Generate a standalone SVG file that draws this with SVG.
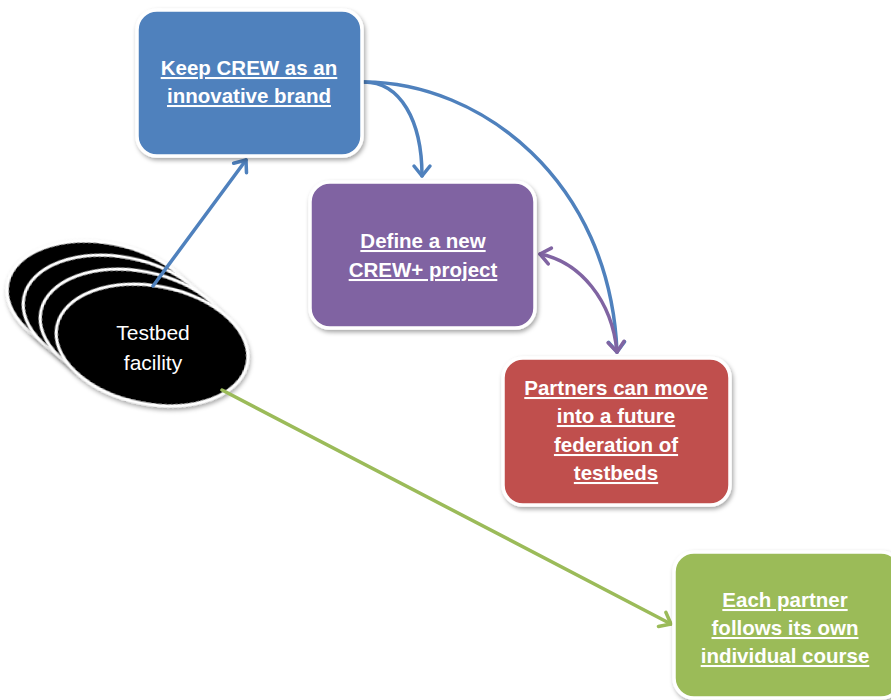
<svg xmlns="http://www.w3.org/2000/svg" width="891" height="700" viewBox="0 0 891 700">
<defs>
<style>
.box{stroke:#fff;stroke-width:3.5;filter:url(#sh)}
.lbl{font-family:"Liberation Sans",Arial,sans-serif;font-weight:bold;font-size:20.5px;fill:#fff;text-anchor:middle;text-decoration:underline}
.ell{fill:#000;stroke:#fff;stroke-width:3;filter:url(#sh)}
.et{font-family:"Liberation Sans",Arial,sans-serif;font-size:21px;fill:#fff;text-anchor:middle}
.c{fill:none;stroke-width:3.5;stroke-linecap:round}
</style>
<filter id="sh" x="-20%" y="-20%" width="140%" height="140%">
<feDropShadow dx="1.5" dy="2.5" stdDeviation="2" flood-color="#000" flood-opacity="0.35"/>
</filter>
<marker id="ab" markerUnits="userSpaceOnUse" viewBox="-14 -11 16 22" refX="0" refY="0" markerWidth="16" markerHeight="22" orient="auto-start-reverse" overflow="visible">
<path d="M-10,-8 L0,0 L-10,8" fill="none" stroke="#4F81BD" stroke-width="3.5" stroke-linecap="round" stroke-linejoin="round"/>
</marker>
<marker id="ap" markerUnits="userSpaceOnUse" viewBox="-14 -11 16 22" refX="0" refY="0" markerWidth="16" markerHeight="22" orient="auto-start-reverse" overflow="visible">
<path d="M-10,-8 L0,0 L-10,8" fill="none" stroke="#8064A2" stroke-width="3.5" stroke-linecap="round" stroke-linejoin="round"/>
</marker>
<marker id="ag" markerUnits="userSpaceOnUse" viewBox="-14 -11 16 22" refX="0" refY="0" markerWidth="16" markerHeight="22" orient="auto-start-reverse" overflow="visible">
<path d="M-10,-8 L0,0 L-10,8" fill="none" stroke="#9BBB59" stroke-width="3.5" stroke-linecap="round" stroke-linejoin="round"/>
</marker>
</defs>
<rect width="891" height="700" fill="#fff"/>

<g id="testbed">
<ellipse class="ell" cx="103" cy="302" rx="97" ry="59" transform="rotate(11 103 302)"/>
<ellipse class="ell" cx="119" cy="316" rx="97" ry="59" transform="rotate(11 119 316)"/>
<ellipse class="ell" cx="136" cy="330" rx="97" ry="59" transform="rotate(11 136 330)"/>
<ellipse class="ell" cx="152" cy="345" rx="97" ry="59" transform="rotate(11 152 345)"/>
<text class="et" x="153" y="340">Testbed</text>
<text class="et" x="153" y="370">facility</text>
</g>

<g id="connectors">
<path class="c" stroke="#4F81BD" d="M153,286 L246,160" marker-end="url(#ab)"/>
<path class="c" stroke="#4F81BD" d="M364,82 C400,82 422,120 422,176" marker-end="url(#ab)"/>
<path class="c" stroke="#4F81BD" d="M364,82 C480,82 610,180 617,352" marker-end="url(#ab)"/>
<path class="c" stroke="#8064A2" d="M540,254 C580,262 612,300 617,352" marker-start="url(#ap)" marker-end="url(#ap)"/>
<path class="c" stroke="#9BBB59" d="M222,390 L671,624" marker-end="url(#ag)"/>
</g>

<g id="keep">
<rect class="box" x="137" y="10" width="225" height="146" rx="20" fill="#4F81BD"/>
<text class="lbl" x="249" y="75">Keep CREW as an</text>
<text class="lbl" x="249" y="103">innovative brand</text>
</g>

<g id="define">
<rect class="box" x="310" y="182" width="225" height="146" rx="20" fill="#8064A2"/>
<text class="lbl" x="423" y="248">Define a new</text>
<text class="lbl" x="423" y="277">CREW+ project</text>
</g>

<g id="partners">
<rect class="box" x="503" y="358" width="227" height="147" rx="20" fill="#C0504D"/>
<text class="lbl" x="616" y="395">Partners can move</text>
<text class="lbl" x="616" y="423">into a future</text>
<text class="lbl" x="616" y="452">federation of</text>
<text class="lbl" x="616" y="480">testbeds</text>
</g>

<g id="each">
<rect class="box" x="674" y="552" width="227" height="146" rx="20" fill="#9BBB59"/>
<text class="lbl" x="785" y="607">Each partner</text>
<text class="lbl" x="785" y="635">follows its own</text>
<text class="lbl" x="785" y="663">individual course</text>
</g>
</svg>
